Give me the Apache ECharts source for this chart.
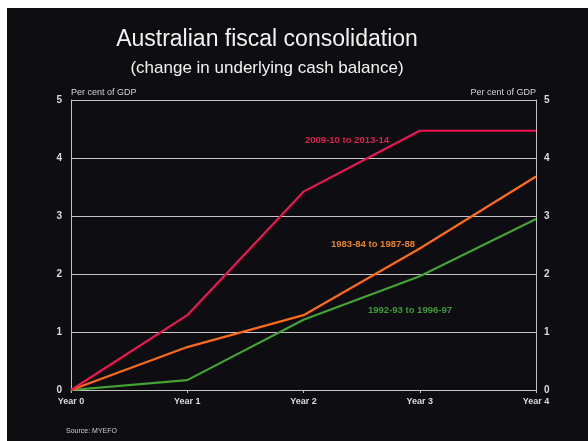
<!DOCTYPE html>
<html>
<head>
<meta charset="utf-8">
<script src="https://cdn.jsdelivr.net/npm/echarts@6/dist/echarts.min.js"></script>
<style>
html,body{margin:0;padding:0;background:#ffffff;width:588px;height:441px;overflow:hidden;}
#c{position:absolute;left:7px;top:8px;width:581px;height:433px;}
</style>
</head>
<body>
<div id="c"></div>
<script>
const categories = ['Year 0','Year 1','Year 2','Year 3','Year 4'];
const s2009 = [0, 1.29, 3.42, 4.47, 4.47];
const s1983 = [0, 0.74, 1.29, 2.44, 3.68];
const s1992 = [0, 0.17, 1.21, 1.96, 2.95];
const yTicks = [0, 1, 2, 3, 4, 5];

const chart = echarts.init(document.getElementById('c'), null, {renderer:'canvas'});
const grey = '#c4c4c4';
const font = 'Liberation Sans, Arial, sans-serif';
const yAxisBase = {
  type:'value', min:0, max:5, interval:1,
  axisLine:{show:true, lineStyle:{color:grey, width:1}},
  axisTick:{show:false},
  splitLine:{show:true, lineStyle:{color:grey, width:1}},
  axisLabel:{color:'#dcdcdc', fontSize:10, fontWeight:'bold', fontFamily:font, margin:9,
    formatter:v => yTicks.includes(v) ? String(v) : ''},
  name:'Per cent of GDP', nameLocation:'end', nameGap:3,
  nameTextStyle:{color:'#d4d4d4', fontSize:9, fontFamily:font, verticalAlign:'bottom'}
};
chart.setOption({
  backgroundColor:'#0d0d12',
  animation:false,
  grid:{left:64, right:52, top:92, bottom:51},
  xAxis:{type:'category', data:categories, boundaryGap:false,
    axisLine:{lineStyle:{color:grey, width:1}},
    axisTick:{show:true, length:3, lineStyle:{color:grey}},
    axisLabel:{color:'#dcdcdc', fontSize:9, fontWeight:'bold', fontFamily:font, margin:7}},
  yAxis:[
    Object.assign({}, yAxisBase, {position:'left', nameTextStyle:Object.assign({}, yAxisBase.nameTextStyle, {align:'left'})}),
    Object.assign({}, yAxisBase, {position:'right', splitLine:{show:false}, axisLabel:Object.assign({}, yAxisBase.axisLabel, {margin:8}), nameTextStyle:Object.assign({}, yAxisBase.nameTextStyle, {align:'right'})})
  ],
  series:[
    {name:'1992-93 to 1996-97', type:'line', data:s1992, symbol:'none', lineStyle:{color:'#45a335', width:2.2}},
    {name:'1983-84 to 1987-88', type:'line', data:s1983, symbol:'none', lineStyle:{color:'#ff6a18', width:2.2}},
    {name:'2009-10 to 2013-14', type:'line', data:s2009, symbol:'none', lineStyle:{color:'#ee1550', width:2.2}}
  ],
  graphic:[
    {type:'text', x:260, y:32, style:{text:'Australian fiscal consolidation', fill:'#f2f2f2', font:'23px ' + font, textAlign:'center', textVerticalAlign:'middle'}},
    {type:'text', x:260, y:60, style:{text:'(change in underlying cash balance)', fill:'#f2f2f2', font:'17px ' + font, textAlign:'center', textVerticalAlign:'middle'}},
    {type:'text', x:340, y:132, style:{text:'2009-10 to 2013-14', fill:'#d8214f', font:'bold 9.5px ' + font, textAlign:'center', textVerticalAlign:'middle'}},
    {type:'text', x:366, y:236, style:{text:'1983-84 to 1987-88', fill:'#e8822a', font:'bold 9.5px ' + font, textAlign:'center', textVerticalAlign:'middle'}},
    {type:'text', x:403, y:302, style:{text:'1992-93 to 1996-97', fill:'#3f9a35', font:'bold 9.5px ' + font, textAlign:'center', textVerticalAlign:'middle'}},
    {type:'text', x:59, y:423, style:{text:'Source: MYEFO', fill:'#cfcfcf', font:'7px ' + font, textAlign:'left', textVerticalAlign:'middle'}}
  ]
});
</script>
</body>
</html>
